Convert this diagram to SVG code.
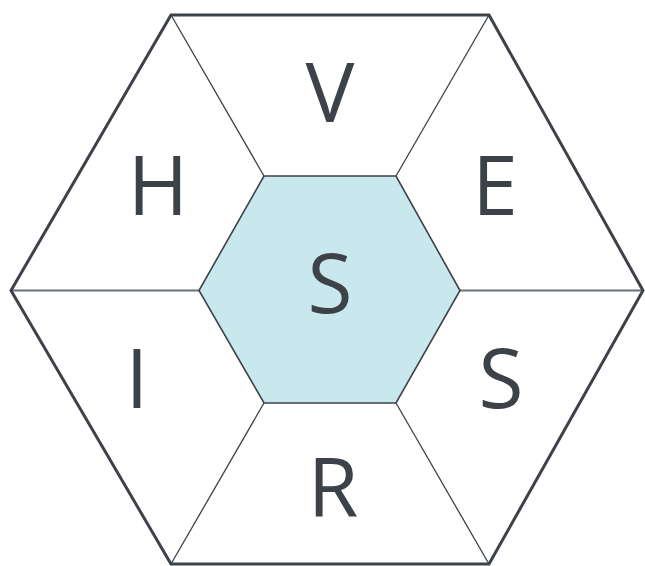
<svg xmlns="http://www.w3.org/2000/svg" width="645" height="566" viewBox="0 0 645 566">
<style>
.outer{fill:none;stroke:#3d4249;stroke-width:3;stroke-linejoin:miter}
.inner{fill:#c8e8ee;stroke:#3d4249;stroke-width:1.6}
.sp{stroke:#3d4249;stroke-width:1.3;fill:none}
.hz{stroke:#6b7076;stroke-width:2;fill:none}
text{font-family:"Open Sans","Liberation Sans",sans-serif;font-size:82px;fill:#3d4249;text-anchor:middle}
</style>
<rect width="645" height="566" fill="#fff"/>
<g id="connectors">
<line class="sp" x1="171" y1="15" x2="264" y2="176"/>
<line class="sp" x1="489" y1="15" x2="396" y2="176"/>
<line class="sp" x1="171" y1="564" x2="264" y2="403"/>
<line class="sp" x1="489" y1="564" x2="396" y2="403"/>
<line class="hz" x1="11" y1="290.5" x2="199" y2="290.5"/>
<line class="hz" x1="460" y1="290.5" x2="643" y2="290.5"/>
</g>
<g id="outer"><polygon class="outer" points="171,15 489,15 643,290.5 489,564 171,564 11,290.5"/></g>
<g id="center"><polygon class="inner" points="264,176 396,176 460,290.5 396,403 264,403 199,290.5"/><text x="330" y="313">S</text></g>
<g id="v"><text x="330" y="122">V</text></g>
<g id="h"><text x="158" y="215">H</text></g>
<g id="e"><text x="495" y="215">E</text></g>
<g id="i"><text x="137" y="408">I</text></g>
<g id="s2"><text x="501" y="408">S</text></g>
<g id="r"><text x="333" y="517">R</text></g>
</svg>
